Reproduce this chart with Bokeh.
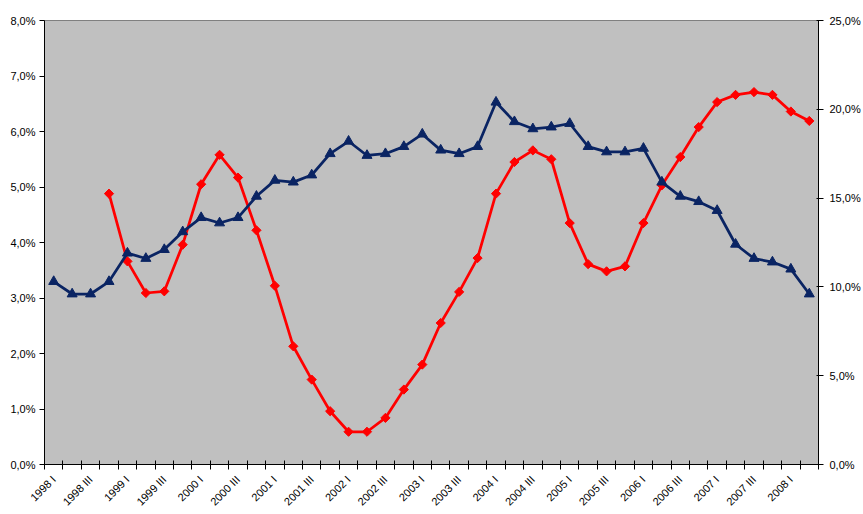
import math
import numpy as np
from bokeh.plotting import figure
from bokeh.models import LinearAxis, Range1d, FixedTicker
from bokeh.embed import file_html
from bokeh.resources import INLINE

quarters = []
for yr in range(1998, 2009):
    for q in ["I", "II", "III", "IV"]:
        quarters.append(f"{yr} {q}")
quarters = quarters[:42]  # 1998 I .. 2008 II

# GDP growth (left axis, %)
red_values = [None, None, None, 4.88, 3.66, 3.09, 3.12, 3.96, 5.05, 5.58, 5.17, 4.22,
              3.22, 2.13, 1.53, 0.96, 0.59, 0.59, 0.84, 1.35, 1.80, 2.55, 3.11, 3.72,
              4.88, 5.45, 5.66, 5.50, 4.35, 3.61, 3.48, 3.57, 4.35, 5.03, 5.54, 6.08,
              6.53, 6.66, 6.71, 6.66, 6.36, 6.19]
# Unemployment (right axis, %)
navy_values = [10.3, 9.6, 9.6, 10.3, 11.9, 11.6, 12.1, 13.1, 13.9, 13.6, 13.9, 15.1,
               16.0, 15.9, 16.3, 17.5, 18.2, 17.4, 17.5, 17.9, 18.6, 17.7, 17.5, 17.9,
               20.4, 19.3, 18.9, 19.0, 19.2, 17.9, 17.6, 17.6, 17.8, 15.9, 15.1, 14.8,
               14.3, 12.4, 11.6, 11.4, 11.0, 9.6]

left_ticks = [0, 1, 2, 3, 4, 5, 6, 7, 8]
right_ticks = [0, 5, 10, 15, 20, 25]

FONT = "Liberation Sans"
NAVY = "#0A2463"
RED = "#FF0000"

x = np.arange(len(quarters)) + 0.5
red = np.array([np.nan if v is None else v for v in red_values], dtype=float)
navy = np.array(navy_values, dtype=float)

p = figure(width=863, height=514, output_backend="svg", toolbar_location=None,
           x_range=Range1d(0, len(quarters)), y_range=Range1d(0, 8))
p.extra_y_ranges = {"right": Range1d(0, 25)}
p.min_border_left = 44
p.min_border_right = 45
p.min_border_top = 20
p.min_border_bottom = 49
p.background_fill_color = "white"
p.border_fill_color = "white"
p.outline_line_color = "#808080"
p.outline_line_width = 1
p.xgrid.visible = False
p.ygrid.visible = False

# x axis: labels at every second category centre, ticks at category boundaries
lab_pos = [float(i) + 0.5 for i in range(0, len(quarters), 2)]
xa = p.xaxis[0]
xa.ticker = FixedTicker(ticks=lab_pos, minor_ticks=list(range(0, len(quarters) + 1)))
xa.major_label_overrides = {float(i) + 0.5: quarters[i] for i in range(0, len(quarters), 2)}
xa.major_label_orientation = math.pi / 4
xa.major_tick_line_color = None
xa.major_tick_in = 0
xa.major_tick_out = 0
xa.minor_tick_line_color = "black"
xa.minor_tick_in = 4
xa.minor_tick_out = 5
xa.axis_line_color = "black"
xa.major_label_text_font = FONT
xa.major_label_text_font_size = "11px"
xa.major_label_text_color = "black"
xa.major_label_standoff = 8

ya = p.yaxis[0]
ya.ticker = FixedTicker(ticks=left_ticks)
ya.major_label_overrides = {t: f"{t},0%" for t in left_ticks}
ya.major_tick_in = 0
ya.major_tick_out = 5
ya.minor_tick_line_color = None
ya.axis_line_color = "black"
ya.major_label_text_font = FONT
ya.major_label_text_font_size = "11px"
ya.major_label_text_color = "black"
ya.major_label_standoff = 4

ra = LinearAxis(y_range_name="right")
ra.ticker = FixedTicker(ticks=right_ticks)
ra.major_label_overrides = {t: f"{t},0%" for t in right_ticks}
ra.major_tick_in = 2
ra.major_tick_out = 5
ra.minor_tick_line_color = None
ra.axis_line_color = "black"
ra.major_label_text_font = FONT
ra.major_label_text_font_size = "11px"
ra.major_label_text_color = "black"
ra.major_label_standoff = 6
p.add_layout(ra, "right")

# plot area background
p.background_fill_color = "#C0C0C0"

p.line(x, red, line_color=RED, line_width=2.75)
p.scatter(x, red, marker="square", angle=math.pi / 4, size=6.5,
          fill_color=RED, line_color=RED, line_width=1)

p.line(x, navy, line_color=NAVY, line_width=2.75, y_range_name="right")
p.scatter(x, navy, marker="triangle", size=10, fill_color=NAVY, line_color=NAVY,
          y_range_name="right")

open("out.html", "w").write(file_html(p, INLINE))
